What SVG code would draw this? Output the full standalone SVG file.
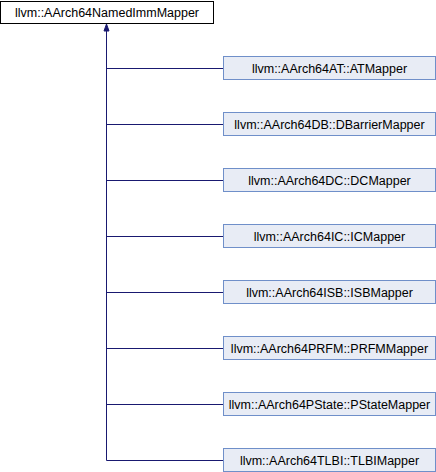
<svg xmlns="http://www.w3.org/2000/svg" width="436" height="472" viewBox="0 0 436 472">
<style>
  .base rect { fill: #ffffff; stroke: #000000; stroke-width: 1; }
  .child rect { fill: #e8ecf5; stroke: #6f8fc9; stroke-width: 1; }
  text { font-family: "Liberation Sans", Arial, sans-serif; font-size: 12.5px; fill: #000000; text-anchor: middle; }
  .edge { stroke: #191970; stroke-width: 1; fill: none; }
  .head { fill: #191970; stroke: #191970; stroke-width: 1; }
</style>
<g id="connectors">
  <path class="edge" d="M106.5,30 V460.5"/>
  <path class="edge" d="M106.5,68.5 H223.5 M106.5,124.5 H223.5 M106.5,180.5 H223.5 M106.5,236.5 H223.5 M106.5,292.5 H223.5 M106.5,348.5 H223.5 M106.5,404.5 H223.5 M106.5,460.5 H223.5"/>
  <polygon class="head" points="106.5,24 109,31 104,31"/>
</g>
<g id="node-base" class="base">
  <rect x="0.5" y="1.5" width="213" height="22"/>
  <text x="107" y="17">llvm::AArch64NamedImmMapper</text>
</g>
<g id="node-at" class="child">
  <rect x="223.5" y="56.5" width="212" height="23"/>
  <text x="329.5" y="72.5">llvm::AArch64AT::ATMapper</text>
</g>
<g id="node-db" class="child">
  <rect x="223.5" y="112.5" width="212" height="23"/>
  <text x="329.5" y="128.5">llvm::AArch64DB::DBarrierMapper</text>
</g>
<g id="node-dc" class="child">
  <rect x="223.5" y="168.5" width="212" height="23"/>
  <text x="329.5" y="184.5">llvm::AArch64DC::DCMapper</text>
</g>
<g id="node-ic" class="child">
  <rect x="223.5" y="224.5" width="212" height="23"/>
  <text x="329.5" y="240.5">llvm::AArch64IC::ICMapper</text>
</g>
<g id="node-isb" class="child">
  <rect x="223.5" y="280.5" width="212" height="23"/>
  <text x="329.5" y="296.5">llvm::AArch64ISB::ISBMapper</text>
</g>
<g id="node-prfm" class="child">
  <rect x="223.5" y="336.5" width="212" height="23"/>
  <text x="329.5" y="352.5">llvm::AArch64PRFM::PRFMMapper</text>
</g>
<g id="node-pstate" class="child">
  <rect x="223.5" y="392.5" width="212" height="23"/>
  <text x="329.5" y="408.5">llvm::AArch64PState::PStateMapper</text>
</g>
<g id="node-tlbi" class="child">
  <rect x="223.5" y="448.5" width="212" height="23"/>
  <text x="329.5" y="464.5">llvm::AArch64TLBI::TLBIMapper</text>
</g>
</svg>
